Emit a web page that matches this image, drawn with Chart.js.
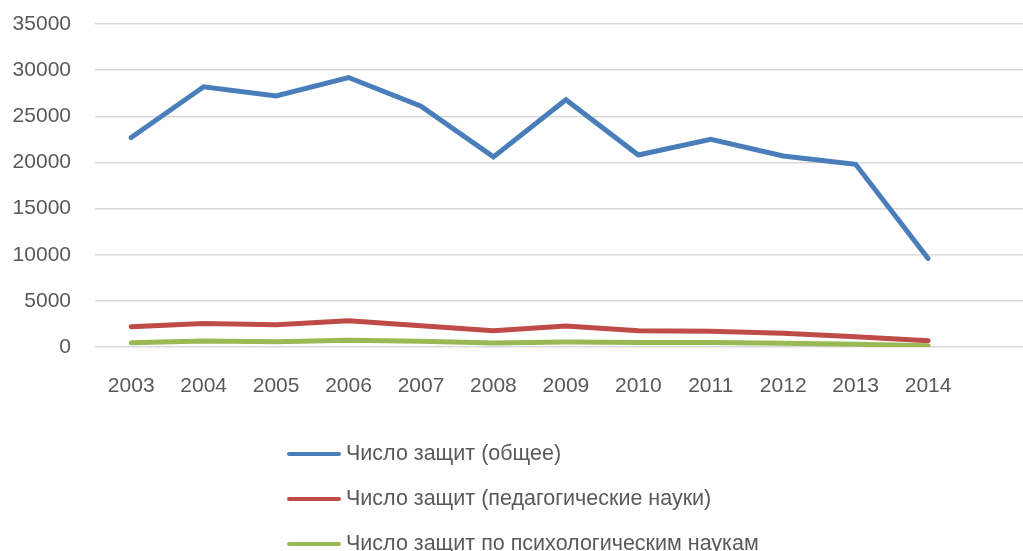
<!DOCTYPE html>
<html>
<head>
<meta charset="utf-8">
<script src="https://cdn.jsdelivr.net/npm/chart.js@4"></script>
<style>
    html, body { margin: 0; padding: 0; background: #fff; }
    #wrap { position: relative; width: 1023px; height: 551px; overflow: hidden; }
    #legend { position: absolute; left: 287px; top: 431px; font-family: "Liberation Sans", Arial, sans-serif; font-size: 21.5px; color: #595959; }
    .item { display: flex; align-items: center; height: 45px; white-space: nowrap; }
    .swatch { width: 54px; height: 4px; border-radius: 2px; margin-right: 5px; }
</style>
</head>
<body>
<div id="wrap">
    <canvas id="chart" width="1023" height="551"></canvas>
    <div id="legend"></div>
</div>
<script>
    // Data
    const years = [2003, 2004, 2005, 2006, 2007, 2008, 2009, 2010, 2011, 2012, 2013, 2014];
    const totalDefenses = [22700, 28200, 27200, 29200, 26100, 20600, 26800, 20800, 22500, 20700, 19800, 9600];
    const pedagogyDefenses = [2200, 2550, 2400, 2850, 2300, 1770, 2270, 1760, 1700, 1480, 1120, 690];
    const psychologyDefenses = [470, 650, 570, 720, 610, 430, 540, 500, 500, 400, 290, 140];
    const yTicks = [0, 5000, 10000, 15000, 20000, 25000, 30000, 35000];

    const seriesNames = [
        'Число защит (общее)',
        'Число защит (педагогические науки)',
        'Число защит по психологическим наукам'
    ];
    const seriesColors = ['#4a7ebb', '#be4b48', '#98b954'];
    const seriesValues = [totalDefenses, pedagogyDefenses, psychologyDefenses];

    const font = { family: '"Liberation Sans", Arial, sans-serif', size: 21 };

    const ctx = document.getElementById('chart').getContext('2d');
    const chart = new Chart(ctx, {
        type: 'line',
        data: {
            datasets: seriesValues.map((vals, i) => ({
                label: seriesNames[i],
                data: vals.map((v, j) => ({ x: years[j], y: v })),
                borderColor: seriesColors[i],
                backgroundColor: seriesColors[i],
                borderWidth: 5,
                pointRadius: 0,
                tension: 0,
                borderCapStyle: 'round'
            })).reverse()
        },
        options: {
            responsive: false,
            animation: false,
            layout: { padding: { top: 24, right: 0, left: 0, bottom: 0 } },
            plugins: {
                legend: { display: false },
                tooltip: { enabled: false }
            },
            scales: {
                x: {
                    type: 'linear',
                    min: 2002.5,
                    max: 2015.31,
                    afterBuildTicks: (scale) => { scale.ticks = years.map(v => ({ value: v })); },
                    afterFit: (scale) => { scale.height = 551 - 347; },
                    grid: { display: false, drawTicks: false },
                    border: { display: false },
                    ticks: { color: '#595959', font: font, padding: 27, maxRotation: 0, callback: (v) => String(v) }
                },
                y: {
                    min: 0,
                    max: 35000,
                    afterBuildTicks: (scale) => { scale.ticks = yTicks.map(v => ({ value: v })); },
                    afterFit: (scale) => {
                        scale.width = 95;
                        scale.paddingTop = 0;
                        scale.paddingBottom = 0;
                    },
                    grid: { color: '#d9d9d9', lineWidth: 1.5, drawTicks: false },
                    border: { display: false },
                    ticks: { color: '#595959', font: font, padding: 24, callback: (v) => String(v) }
                }
            }
        }
    });

    // Vertical legend under the chart
    const legendEl = document.getElementById('legend');
    seriesNames.forEach((name, i) => {
        const item = document.createElement('div');
        item.className = 'item';
        item.innerHTML = '<span class="swatch" style="background:' + seriesColors[i] + '"></span><span>' + name + '</span>';
        legendEl.appendChild(item);
    });
</script>
</body>
</html>
